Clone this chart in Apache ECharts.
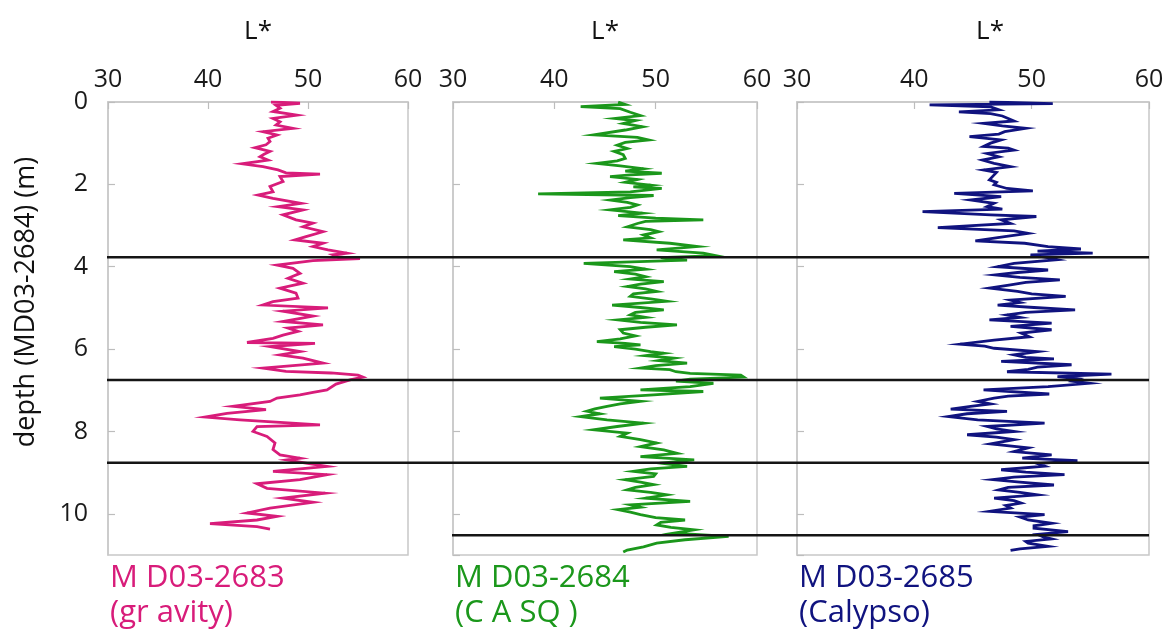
<!DOCTYPE html>
<html>
<head>
<meta charset="utf-8">
<script src="https://cdn.jsdelivr.net/npm/echarts@6/dist/echarts.min.js"></script>
<style>
  html, body { margin: 0; padding: 0; background: #fff; }
  #chart { width: 1176px; height: 637px; }
</style>
</head>
<body>
<div id="chart"></div>
<script>
// ---- data: [depth (m), L*] ----
const coreNames = ['M D03-2683\n(gr avity)', 'M D03-2684\n(C A SQ )', 'M D03-2685\n(Calypso)'];
const coreColors = ['#d81c7a', '#1b971b', '#10137f'];

const gravityProfile = [
 [0,46.3],[0.03,49.2],[0.08,46.8],[0.15,47.2],[0.23,46.5],[0.32,48.9],[0.4,46.5],[0.48,47.2],[0.56,46.8],[0.64,48.5],
 [0.72,45.5],[0.8,46.9],[0.88,46.0],[0.96,46.2],[1.04,45.8],[1.11,44.7],[1.2,46.2],[1.27,45.6],[1.33,45.2],[1.41,46.0],
 [1.5,43.4],[1.57,45.5],[1.65,47.0],[1.72,47.8],[1.75,51.2],[1.81,47.2],[1.93,47.5],[2.05,46.2],[2.18,46.5],[2.26,45.0],
 [2.34,46.5],[2.46,49.3],[2.54,47.0],[2.62,49.5],[2.74,47.5],[2.86,48.8],[2.94,50.5],[3.03,49.5],[3.15,51.5],[3.27,49.8],
 [3.35,48.7],[3.43,51.5],[3.51,50.5],[3.59,52.0],[3.67,53.9],[3.71,52.5],[3.76,53.0],[3.8,55.2],[3.85,50.5],[3.96,46.9],
 [4.04,48.5],[4.16,49.2],[4.28,48.0],[4.4,49.5],[4.52,47.2],[4.64,48.8],[4.76,49.0],[4.85,46.5],[4.93,45.5],[5.0,52.0],
 [5.08,47.5],[5.2,50.5],[5.33,47.5],[5.41,51.5],[5.49,48.0],[5.57,49.0],[5.66,47.5],[5.74,46.5],[5.84,43.9],[5.86,50.7],
 [5.94,46.2],[6.06,49.2],[6.14,47.2],[6.22,49.5],[6.34,51.5],[6.46,45.5],[6.54,47.8],[6.58,52.3],[6.63,55.0],[6.68,55.5],
 [6.75,54.2],[6.85,52.8],[6.99,51.9],[7.05,50.5],[7.11,49.2],[7.19,46.9],[7.27,46.2],[7.39,42.5],[7.47,45.8],[7.56,41.9],
 [7.65,39.7],[7.72,43.2],[7.84,51.2],[7.88,44.9],[8.0,44.5],[8.12,45.9],[8.28,46.7],[8.44,46.5],[8.57,47.2],[8.65,49.2],
 [8.69,47.9],[8.77,49.8],[8.85,51.9],[8.97,46.5],[9.05,51.9],[9.17,49.2],[9.27,44.9],[9.38,45.9],[9.5,51.7],[9.62,47.5],
 [9.72,50.5],[9.86,46.2],[9.98,43.9],[10.06,46.9],[10.15,44.9],[10.24,40.2],[10.31,44.9],[10.37,46.2]
];

const casqProfile = [
 [0,46.3],[0.06,47.0],[0.11,42.6],[0.16,46.5],[0.25,47.5],[0.33,48.5],[0.4,46.0],[0.45,48.0],[0.52,46.8],[0.6,48.7],
 [0.68,47.0],[0.8,43.9],[0.86,48.2],[0.92,49.3],[0.98,47.0],[1.05,46.2],[1.13,47.2],[1.2,45.9],[1.28,46.8],[1.37,47.0],
 [1.43,46.2],[1.49,44.2],[1.55,46.5],[1.62,48.8],[1.68,47.0],[1.73,50.6],[1.77,47.5],[1.81,45.5],[1.88,48.2],[1.95,47.0],
 [2.02,49.5],[2.06,47.8],[2.1,50.6],[2.18,47.5],[2.23,38.4],[2.27,49.8],[2.32,47.5],[2.38,45.5],[2.44,47.2],[2.5,48.2],
 [2.56,47.5],[2.62,45.5],[2.7,48.7],[2.76,46.3],[2.82,50.0],[2.86,54.7],[2.9,49.0],[2.95,48.2],[3.03,47.2],[3.1,49.5],
 [3.15,50.3],[3.23,48.8],[3.3,49.5],[3.35,46.8],[3.43,51.4],[3.51,54.1],[3.59,50.1],[3.67,54.7],[3.73,55.9],[3.78,50.5],
 [3.84,53.1],[3.92,42.9],[4.0,47.5],[4.06,49.0],[4.12,45.9],[4.18,48.0],[4.24,49.0],[4.3,47.5],[4.36,50.8],[4.42,48.5],
 [4.48,47.2],[4.54,49.0],[4.6,50.1],[4.66,47.8],[4.72,47.5],[4.78,49.5],[4.84,51.1],[4.93,45.7],[4.99,48.5],[5.05,50.8],
 [5.11,48.0],[5.17,47.5],[5.23,49.0],[5.29,46.3],[5.35,48.5],[5.41,52.1],[5.47,49.0],[5.53,46.5],[5.61,46.8],[5.68,48.0],
 [5.75,46.5],[5.82,44.2],[5.86,47.0],[5.9,48.5],[5.94,45.9],[6.0,48.0],[6.06,49.5],[6.1,50.8],[6.16,49.0],[6.22,51.8],
 [6.28,50.3],[6.34,53.1],[6.4,50.0],[6.46,48.5],[6.5,51.4],[6.55,52.0],[6.59,53.4],[6.63,58.4],[6.68,58.7],[6.73,53.4],
 [6.78,52.0],[6.83,55.7],[6.91,53.4],[6.99,48.5],[7.03,54.7],[7.11,49.8],[7.19,44.5],[7.27,48.5],[7.33,46.5],[7.39,45.2],
 [7.45,44.0],[7.51,43.2],[7.57,44.5],[7.64,42.6],[7.72,45.2],[7.8,48.8],[7.88,46.2],[7.96,43.9],[8.04,47.2],[8.12,46.5],
 [8.2,48.5],[8.28,50.1],[8.37,48.5],[8.45,50.8],[8.53,52.1],[8.61,48.5],[8.69,53.8],[8.77,50.5],[8.85,53.1],[8.91,49.5],
 [8.97,47.8],[9.03,50.0],[9.09,49.8],[9.17,47.0],[9.23,48.5],[9.29,49.8],[9.36,48.0],[9.42,47.2],[9.48,49.5],[9.54,51.1],
 [9.62,49.0],[9.7,53.4],[9.78,47.5],[9.84,48.5],[9.9,46.3],[9.96,47.5],[10.02,48.5],[10.09,50.0],[10.15,52.9],[10.21,50.5],
 [10.27,50.1],[10.33,51.5],[10.39,53.8],[10.47,51.8],[10.55,57.2],[10.63,52.9],[10.71,50.1],[10.8,48.8],[10.88,47.2],[10.93,46.8]
];

const calypsoProfile = [
 [0,46.4],[0.04,51.8],[0.07,41.3],[0.12,46.5],[0.19,47.2],[0.24,43.8],[0.28,46.5],[0.34,47.5],[0.4,48.0],[0.46,48.5],
 [0.52,45.9],[0.58,47.5],[0.64,49.5],[0.72,47.7],[0.78,47.2],[0.84,44.7],[0.92,47.4],[1.0,46.5],[1.08,45.9],[1.12,48.0],
 [1.17,48.5],[1.25,46.2],[1.33,47.2],[1.41,45.8],[1.49,46.8],[1.57,48.2],[1.65,45.9],[1.71,47.0],[1.77,46.8],[1.89,46.4],
 [1.95,47.0],[2.01,46.8],[2.1,47.9],[2.16,50.1],[2.22,43.4],[2.3,47.4],[2.38,44.8],[2.46,46.8],[2.54,46.2],[2.6,47.5],
 [2.66,40.7],[2.74,46.5],[2.78,50.4],[2.86,47.4],[2.95,48.2],[3.05,42.0],[3.13,48.5],[3.19,49.7],[3.27,47.7],[3.37,45.2],
 [3.43,49.4],[3.51,51.4],[3.57,54.2],[3.62,50.5],[3.67,55.2],[3.71,49.9],[3.76,51.0],[3.83,52.2],[3.92,48.5],[4.0,47.1],
 [4.08,51.4],[4.14,48.8],[4.2,46.9],[4.26,49.0],[4.32,52.4],[4.38,49.5],[4.44,48.2],[4.52,46.4],[4.6,48.8],[4.66,50.0],
 [4.72,52.9],[4.81,48.2],[4.87,49.0],[4.93,47.1],[4.99,50.2],[5.05,53.7],[5.11,49.5],[5.17,47.9],[5.23,49.0],[5.29,46.4],
 [5.37,51.7],[5.45,48.2],[5.53,51.7],[5.61,49.1],[5.7,49.8],[5.78,46.8],[5.88,43.9],[5.93,46.0],[5.98,46.8],[6.06,50.5],
 [6.14,48.5],[6.2,49.5],[6.24,51.9],[6.3,47.4],[6.38,53.4],[6.44,50.5],[6.49,49.7],[6.55,47.9],[6.61,56.8],[6.67,52.2],
 [6.72,54.0],[6.78,53.5],[6.83,54.9],[6.91,51.4],[6.99,45.9],[7.09,51.5],[7.14,48.0],[7.19,46.8],[7.27,45.4],[7.33,46.5],
 [7.39,44.8],[7.46,43.1],[7.51,47.9],[7.57,44.5],[7.64,42.9],[7.72,45.4],[7.8,51.1],[7.88,46.2],[7.94,47.0],[8.0,48.5],
 [8.08,44.5],[8.14,47.0],[8.2,48.5],[8.3,46.5],[8.4,49.7],[8.49,48.5],[8.57,51.7],[8.65,49.2],[8.71,53.9],[8.78,50.5],
 [8.84,51.1],[8.93,47.4],[8.99,49.5],[9.05,52.8],[9.11,48.5],[9.17,46.7],[9.23,49.0],[9.3,51.9],[9.36,48.0],[9.42,47.2],
 [9.48,49.0],[9.54,50.5],[9.62,46.8],[9.68,48.5],[9.74,49.1],[9.8,47.8],[9.86,48.2],[9.94,46.4],[10.02,51.1],[10.08,49.0],
 [10.15,49.7],[10.23,51.7],[10.29,50.2],[10.35,50.2],[10.43,53.1],[10.5,50.5],[10.56,51.0],[10.61,51.7],[10.67,49.5],[10.71,49.7],
 [10.79,51.4],[10.85,49.0],[10.89,48.2]
];

// correlation boundaries (depth in m) and the first panel each one starts at
const boundaryDepths = [3.77, 6.75, 8.76, 10.52];
const boundaryStartPanel = [0, 0, 0, 1];

const xTicks = { min: 30, max: 60, interval: 10 };
const depthAxis = { min: 0, max: 11, interval: 2 };

// ---- layout ----
const FONT = '"Open Sans", "Liberation Sans", sans-serif';
const panels = [
  { left: 108, width: 300 },
  { left: 453, width: 304 },
  { left: 797, width: 352 }
];
const TOP = 102, HEIGHT = 453;
const profiles = [gravityProfile, casqProfile, calypsoProfile];
const overallLeft = panels[0].left;
const overallRight = panels[2].left + panels[2].width;

const grid = panels.map(p => ({
  left: p.left, top: TOP, width: p.width, height: HEIGHT,
  show: true, borderColor: '#c8c8c8', borderWidth: 1.5, backgroundColor: 'transparent'
}));
grid.push({ left: overallLeft, top: TOP, width: overallRight - overallLeft, height: HEIGHT });

const xAxis = panels.map((p, i) => ({
  type: 'value', gridIndex: i, position: 'top',
  min: xTicks.min, max: xTicks.max, interval: xTicks.interval,
  name: 'L*', nameLocation: 'middle', nameGap: 57,
  nameTextStyle: { fontSize: 26, color: '#111', fontFamily: FONT, padding: i === 2 ? [0, 0, 0, 34] : 0 },
  axisLine: { show: true, lineStyle: { color: '#c8c8c8', width: 1.5 } },
  axisTick: { show: true, inside: true, length: 7, lineStyle: { color: '#bdbdbd', width: 1.2 } },
  axisLabel: { fontSize: 25, color: '#1a1a1a', fontFamily: FONT, margin: 10 },
  splitLine: { show: false }
}));
xAxis.push({ type: 'value', gridIndex: 3, min: overallLeft, max: overallRight, show: false });

const yAxis = panels.map((p, i) => ({
  type: 'value', gridIndex: i, inverse: true,
  min: depthAxis.min, max: depthAxis.max, interval: depthAxis.interval,
  axisLine: { show: true, lineStyle: { color: '#c8c8c8', width: 1.5 } },
  axisTick: { show: true, inside: true, length: 7, lineStyle: { color: '#bdbdbd', width: 1.2 } },
  axisLabel: { show: i === 0, showMaxLabel: false, fontSize: 25, color: '#1a1a1a', fontFamily: FONT, margin: 20 },
  splitLine: { show: false }
}));
yAxis.push({ type: 'value', gridIndex: 3, inverse: true, min: depthAxis.min, max: depthAxis.max, show: false });

const series = profiles.map((prof, i) => ({
  type: 'line', xAxisIndex: i, yAxisIndex: i,
  data: prof.map(([d, l]) => [l, d]),
  showSymbol: false, symbol: 'none',
  lineStyle: { color: coreColors[i], width: 2.8, join: 'miter' },
  silent: true, animation: false, z: 2
}));
boundaryDepths.forEach((d, k) => {
  const x0 = panels[boundaryStartPanel[k]].left - 1;
  series.push({
    type: 'line', xAxisIndex: 3, yAxisIndex: 3,
    data: [[x0, d], [overallRight, d]],
    showSymbol: false, symbol: 'none',
    lineStyle: { color: '#151515', width: 2.5 },
    silent: true, animation: false, z: 5
  });
});

const graphic = [
  {
    type: 'text', x: 26, y: 302, rotation: Math.PI / 2,
    style: { text: 'depth (MD03-2684) (m)', font: '27px ' + FONT, fill: '#111', align: 'center', verticalAlign: 'middle' }
  }
].concat(panels.map((p, i) => ({
  type: 'text', left: p.left + 2, top: 561,
  style: { text: coreNames[i], font: '31px ' + FONT, fill: coreColors[i], lineHeight: 35 }
})));

const chart = echarts.init(document.getElementById('chart'), null, { renderer: 'canvas' });
chart.setOption({
  animation: false,
  backgroundColor: '#fff',
  grid, xAxis, yAxis, series, graphic
});
</script>
</body>
</html>
